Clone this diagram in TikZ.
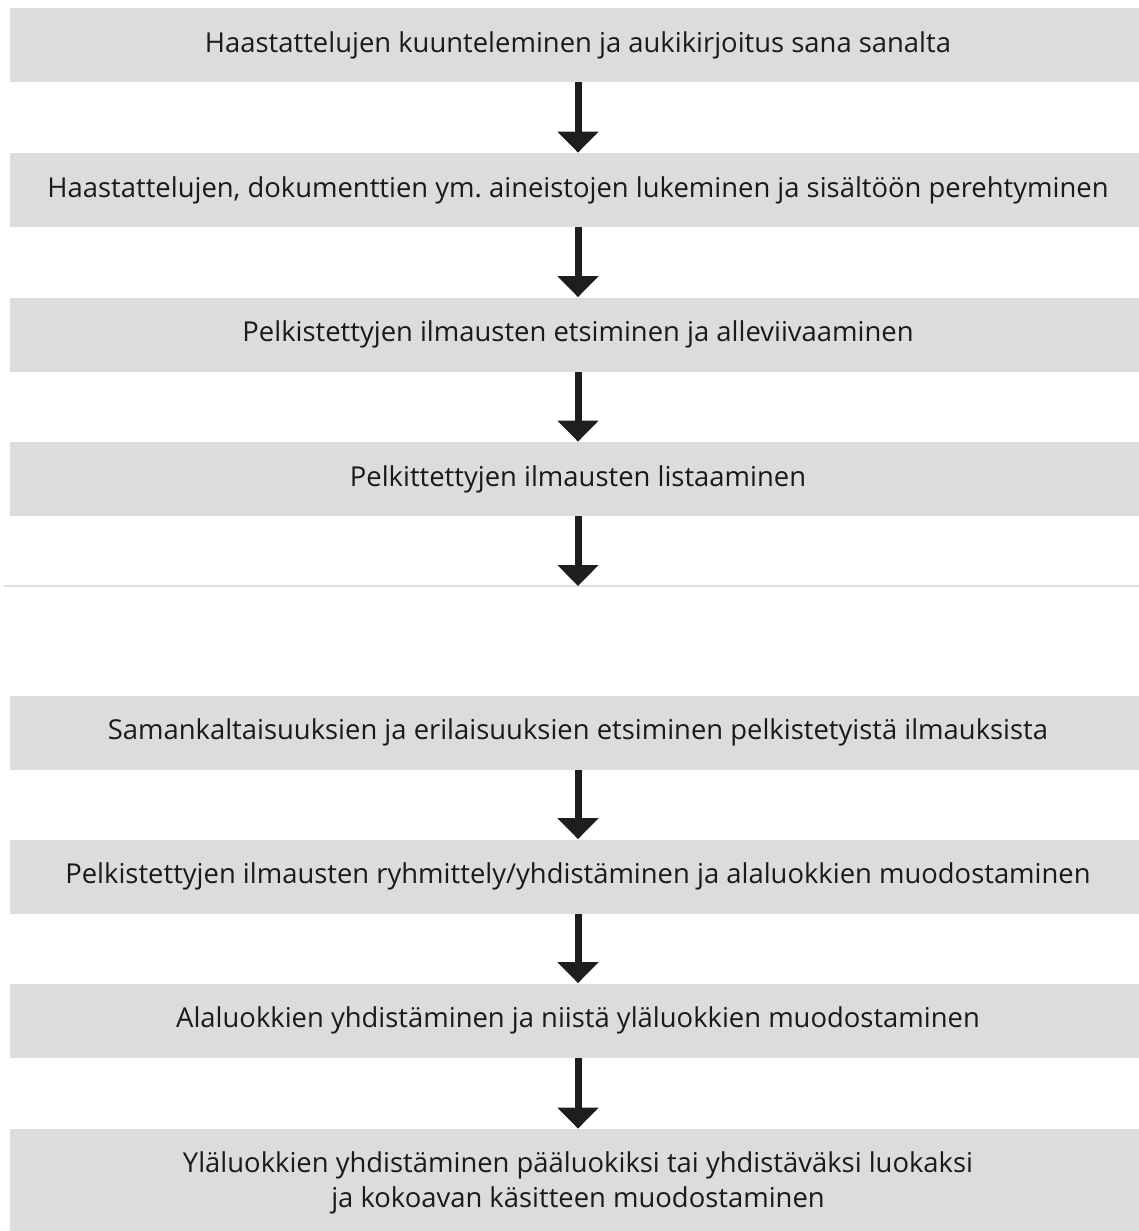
\documentclass[tikz,border=0pt]{standalone}
\usepackage{fontspec}
\setmainfont{Open Sans}
\usetikzlibrary{arrows.meta}
\definecolor{boxgrey}{HTML}{DCDCDC}
\definecolor{linegrey}{HTML}{DDDDDD}
\definecolor{arrowdark}{HTML}{1E1E1E}
\definecolor{txt}{HTML}{1A1A1A}
\begin{document}
\begin{tikzpicture}[x=0.5pt,y=-0.5pt,
  stepbox/.style={fill=boxgrey,draw=none,minimum width=568pt,minimum height=37pt,inner sep=0pt,
    text=txt,font=\fontsize{13.7}{17.8}\selectfont,align=center},
  flow/.style={draw=arrowdark,line width=3.5pt,-{Triangle[width=20pt,length=10.5pt]}}]
\useasboundingbox (0,0) rectangle (1139,1231);
\node[stepbox] (b1) at (578,45) {Haastattelujen kuunteleminen ja aukikirjoitus sana sanalta};
\node[stepbox] (b2) at (578,190) {Haastattelujen, dokumenttien ym.\ aineistojen lukeminen ja sisältöön perehtyminen};
\node[stepbox] (b3) at (578,334.5) {Pelkistettyjen ilmausten etsiminen ja alleviivaaminen};
\node[stepbox] (b4) at (578,479) {Pelkittettyjen ilmausten listaaminen};
\coordinate (gapline) at (578,586);
\draw[linegrey,line width=1pt] (4,586) -- (1139,586);
\node[stepbox] (b5) at (578,732.5) {Samankaltaisuuksien ja erilaisuuksien etsiminen pelkistetyistä ilmauksista};
\node[stepbox] (b6) at (578,876.5) {Pelkistettyjen ilmausten ryhmittely/yhdistäminen ja alaluokkien muodostaminen};
\node[stepbox] (b7) at (578,1020.5) {Alaluokkien yhdistäminen ja niistä yläluokkien muodostaminen};
\node[stepbox,minimum height=54pt] (b8) at (578,1183) {Yläluokkien yhdistäminen pääluokiksi tai yhdistäväksi luokaksi\\ja kokoavan käsitteen muodostaminen};
\draw[flow] (b1.south) -- (b2.north);
\draw[flow] (b2.south) -- (b3.north);
\draw[flow] (b3.south) -- (b4.north);
\draw[flow] (b4.south) -- (gapline);
\draw[flow] (b5.south) -- (b6.north);
\draw[flow] (b6.south) -- (b7.north);
\draw[flow] (b7.south) -- (b8.north);
\end{tikzpicture}
\end{document}
